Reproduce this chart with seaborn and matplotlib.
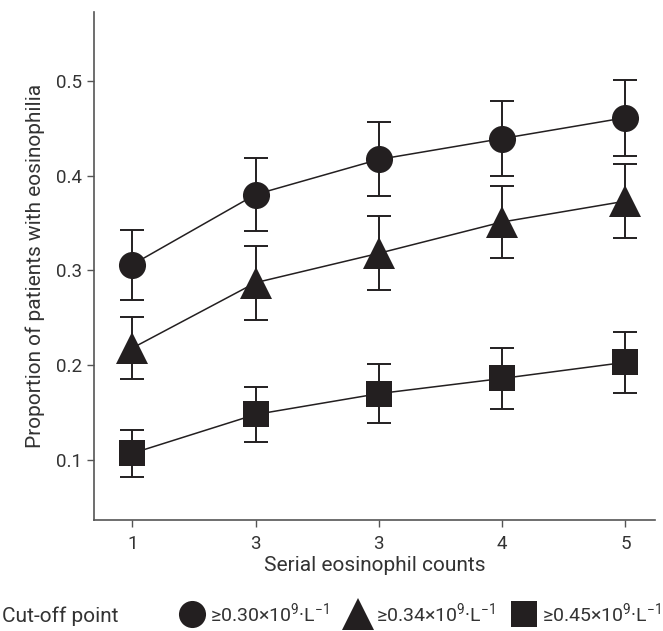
import matplotlib
matplotlib.use("Agg")
import matplotlib.pyplot as plt
from matplotlib.lines import Line2D
import numpy as np
import pandas as pd
import seaborn as sns

# x categories as printed on the axis (the second "3" is in the original)
count_labels = ["1", "3", "3", "4", "5"]

cutoffs = [r"≥0.30×10$^{9}$·L$^{−1}$", r"≥0.34×10$^{9}$·L$^{−1}$", r"≥0.45×10$^{9}$·L$^{−1}$"]
prop_030 = [0.306, 0.380, 0.417, 0.439, 0.461]
prop_034 = [0.218, 0.287, 0.318, 0.351, 0.373]
prop_045 = [0.107, 0.148, 0.170, 0.186, 0.203]
err_030 = [0.037, 0.039, 0.039, 0.040, 0.040]
err_034 = [0.033, 0.039, 0.039, 0.038, 0.039]
err_045 = [0.025, 0.029, 0.031, 0.032, 0.032]

ink = "#231f20"
txt = "#333333"
marker_map = {cutoffs[0]: "o", cutoffs[1]: "^", cutoffs[2]: "s"}
size_map = {cutoffs[0]: 19.5, cutoffs[1]: 23, cutoffs[2]: 19}

pos = np.arange(len(count_labels))
df = pd.DataFrame({
    "pos": np.tile(pos, 3),
    "prop": prop_030 + prop_034 + prop_045,
    "err": err_030 + err_034 + err_045,
    "cutoff": np.repeat(cutoffs, len(pos)),
})

sns.set_style("ticks")
plt.rcParams["font.family"] = ["Roboto", "DejaVu Sans"]
plt.rcParams["mathtext.fontset"] = "custom"
plt.rcParams["mathtext.rm"] = "Roboto"
plt.rcParams["mathtext.it"] = "Roboto"
plt.rcParams["mathtext.bf"] = "Roboto"
plt.rcParams["axes.edgecolor"] = "#555555"
plt.rcParams["xtick.color"] = "#555555"
plt.rcParams["ytick.color"] = "#555555"

fig = plt.figure(figsize=(6.63, 6.31), dpi=100)
ax = fig.add_axes([0.1418, 0.1759, 0.8462, 0.8051])

sns.lineplot(data=df, x="pos", y="prop", units="cutoff", estimator=None,
             color=ink, linewidth=1.1, legend=False, ax=ax)

for name, grp in df.groupby("cutoff", sort=False):
    ax.errorbar(grp["pos"], grp["prop"], yerr=grp["err"], fmt="none",
                ecolor=ink, elinewidth=1.4, capsize=8.3, capthick=1.4, zorder=2)
    ax.plot(grp["pos"], grp["prop"], linestyle="none",
            marker=marker_map[name], markersize=size_map[name],
            color=ink, markeredgewidth=0, zorder=3)

ax.set_xlim(-0.31, 4.24)
ax.set_ylim(0.0367, 0.5725)
ax.set_xticks(pos)
ax.set_xticklabels(count_labels)
ax.set_yticks([0.1, 0.2, 0.3, 0.4, 0.5])
ax.set_yticklabels(["0.1", "0.2", "0.3", "0.4", "0.5"])
ax.tick_params(labelsize=13.5, labelcolor=txt, length=5, width=1, direction="out")
ax.tick_params(axis="x", pad=6)
ax.set_xlabel("Serial eosinophil counts", fontsize=15, color=txt, labelpad=2)
ax.set_ylabel("Proportion of patients with eosinophilia", fontsize=15,
              color=txt, labelpad=8)
sns.despine(ax=ax)
for sp in ax.spines.values():
    sp.set_linewidth(1.2)

handles = [Line2D([], [], linestyle="none", marker=marker_map[c],
                  markersize=size_map[c], color=ink, markeredgewidth=0)
           for c in cutoffs]
fig.text(0.003, 0.024, "Cut-off point", fontsize=15, color=txt,
         va="center", ha="left")
fig.legend(handles, cutoffs, loc="center right", bbox_to_anchor=(0.998, 0.028),
           ncol=3, frameon=False, fontsize=14, handlelength=1.3,
           handletextpad=0.3, columnspacing=0.8, borderaxespad=0,
           borderpad=0, labelcolor=txt)

fig.savefig("out.png", dpi=100)
